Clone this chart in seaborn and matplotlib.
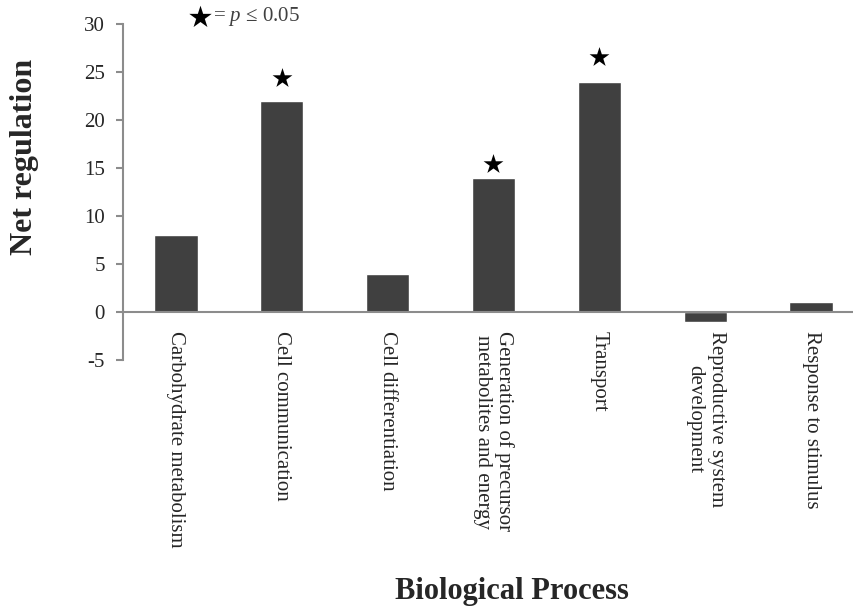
import seaborn as sns
import matplotlib.pyplot as plt
import pandas as pd

# data
processes = ['Carbohydrate metabolism',
             'Cell communication',
             'Cell differentiation',
             'Generation of precursor\nmetabolites and energy',
             'Transport',
             'Reproductive system\ndevelopment',
             'Response to stimulus']
net_regulation = [8, 22, 4, 14, 24, -1, 1]

# significant processes (p <= 0.05) and where the star sits
sig_processes = [1, 3, 4]
sig_star_y = [24.4, 15.4, 26.6]

df = pd.DataFrame({'process': processes, 'net': net_regulation})

sns.set_style('white')
plt.rcParams['font.family'] = ['Liberation Serif', 'DejaVu Serif']
plt.rcParams['axes.unicode_minus'] = False
plt.rcParams['mathtext.fontset'] = 'custom'
plt.rcParams['mathtext.rm'] = 'Liberation Serif'
plt.rcParams['mathtext.it'] = 'Liberation Serif:italic'

fig = plt.figure(figsize=(8.54, 6.12), dpi=100)
# axes is a bit wider than the figure, the zero line runs off the right edge
ax = fig.add_axes([123 / 854, 1 - 360 / 612, 741 / 854, 336 / 612])

sns.barplot(data=df, x='process', y='net', color='#404040',
            width=0.41, saturation=1, ax=ax)

# stars over significant bars
ax.scatter(sig_processes, sig_star_y, marker='*', s=15 ** 2,
           color='black', linewidths=0, zorder=5)

ax.set_xlim(-0.5, 6.5)
ax.set_ylim(-5, 30)
ax.set_yticks(range(-5, 31, 5))
ax.set_xlabel('')
ax.set_ylabel('')

axis_grey = '#8c8c8c'
for side in ['top', 'right']:
    ax.spines[side].set_visible(False)
ax.spines['left'].set_color(axis_grey)
ax.spines['left'].set_linewidth(1.5)
ax.spines['bottom'].set_color(axis_grey)
ax.spines['bottom'].set_linewidth(1.5)
ax.spines['bottom'].set_position(('data', 0))

ax.tick_params(axis='y', left=True, length=5, width=1.5, color=axis_grey,
               labelsize=15, pad=8, labelcolor='#262626')
ax.tick_params(axis='x', bottom=False, length=0, pad=14, labelsize=15,
               labelcolor='#262626')
plt.setp(ax.get_xticklabels(), rotation=270, ha='center', va='top',
         multialignment='center')

# legend: star = p <= 0.05
ax.scatter([0.23], [30.75], marker='*', s=17 ** 2, color='black',
           linewidths=0, clip_on=False, zorder=5)
ax.text(0.35, 30.75, r'= $p$ ≤ 0.05', fontsize=15, color='#404040',
        va='center', ha='left')

fig.text(25 / 854, 1 - 157 / 612, 'Net regulation', rotation=90,
         fontsize=23, fontweight='bold', ha='center', va='center')
fig.text(512 / 854, 1 - 592 / 612, 'Biological Process',
         fontsize=22, fontweight='bold', ha='center', va='center')

fig.savefig('out.png', dpi=100)
